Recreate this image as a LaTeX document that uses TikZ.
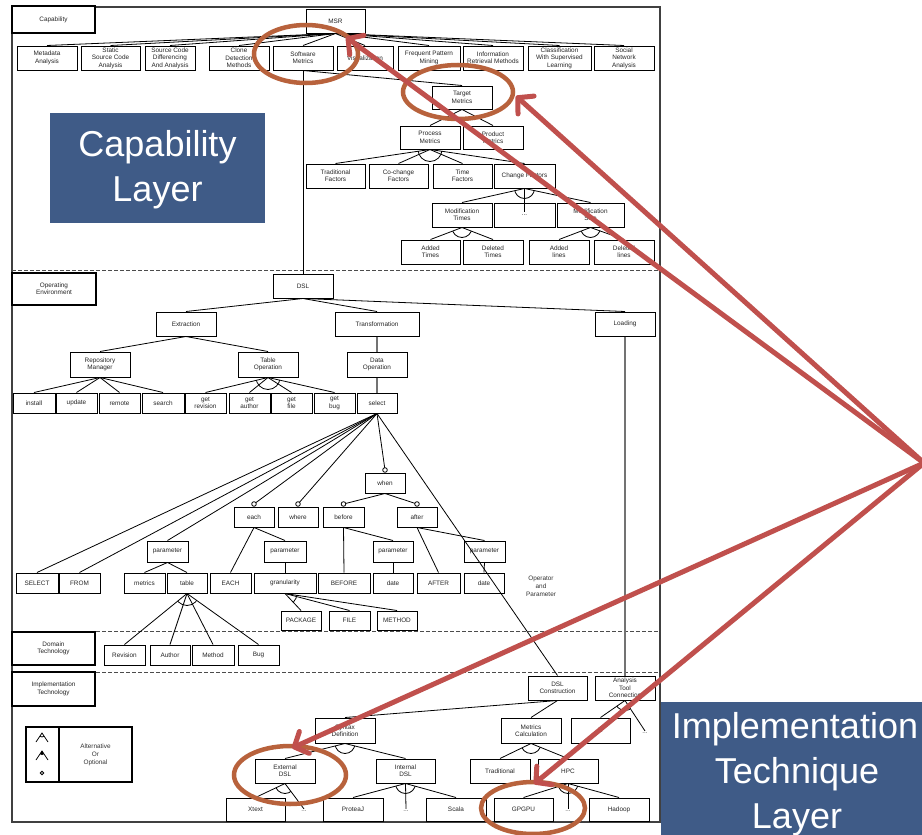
\documentclass[tikz,border=0pt]{standalone}
\usepackage{fontspec}
\setmainfont{Liberation Sans}
\usetikzlibrary{arrows.meta}
\definecolor{layerblue}{RGB}{63,91,135}
\definecolor{arrowred}{RGB}{192,80,77}
\definecolor{ringbrown}{RGB}{184,98,60}
\tikzset{
  fbox/.style={draw=black, line width=1pt, fill=white, inner sep=0pt, align=center,
    font=\fontsize{6.4}{7.4}\selectfont, text=black!85},
  lbox/.style={fbox, line width=1.3pt},
  conn/.style={line width=0.8pt, black},
  gconn/.style={line width=1.1pt, black!55},
  dotsnode/.style={inner sep=1.5pt, font=\fontsize{6.4}{7.4}\selectfont, text=black!70},
  plaintext/.style={inner sep=0pt, align=center, font=\fontsize{6.4}{7.8}\selectfont, text=black!80},
  framestyle/.style={line width=1.3pt, black!75},
  dashline/.style={line width=1pt, black!70, dash pattern=on 4pt off 2pt},
  bigtext/.style={font=\fontsize{36}{45}\selectfont, text=white, align=center, inner sep=0pt},
  redarrow/.style={line width=5pt, draw=arrowred, -{Straight Barb[length=11pt,width=24pt,round]}},
  ring/.style={line width=4.5pt, draw=ringbrown},
}
\newcommand\mkbox[6]{\node[fbox, minimum width=#4-#2, minimum height=#5-#3] (#1) at ({(#2+#4)/2},{(#3+#5)/2}) {#6};}
\newcommand\mklbox[6]{\node[lbox, minimum width=#4-#2, minimum height=#5-#3] (#1) at ({(#2+#4)/2},{(#3+#5)/2}) {#6};}
\newcommand\altarc[4][10]{\begin{scope}\clip (#2.south) -- (#3) -- (#4) -- cycle; \draw[conn] (#2.south) circle[radius=#1pt];\end{scope}}
\newcommand\optc[1]{\draw[conn, fill=white] ([yshift=2.5pt]#1.north) circle[radius=2.3pt];}
\begin{document}
\begin{tikzpicture}[x=1pt,y=-1pt]
\useasboundingbox (0,0) rectangle (922,835);
\fill[white] (0,0) rectangle (922,835);
% frame and layer separators
\draw[framestyle] (12,7) rectangle (660,822);
\draw[dashline] (12,270) -- (660,270);
\draw[dashline] (12,631) -- (660,631);
\draw[dashline] (12,672) -- (660,672);

% ---------------- Capability layer ----------------
\mklbox{cap}{12}{6}{95}{33}{Capability}
\mkbox{msr}{306}{9}{365}{33}{MSR}
\mkbox{md}{17}{46}{77}{70}{Metadata\\Analysis}
\mkbox{ss}{81}{46}{140}{70}{Static\\Source Code\\Analysis}
\mkbox{sdiff}{145}{46}{195}{70}{Source Code\\Differencing\\And Analysis}
\mkbox{cdet}{209}{46}{269}{70}{Clone\\Detection\\Methods}
\mkbox{sm}{273}{46}{333}{70}{Software\\Metrics}
\mkbox{vis}{337}{46}{393}{70}{Visualization}
\mkbox{fpm}{398}{46}{460}{70}{Frequent Pattern\\Mining}
\mkbox{irm}{463}{46}{523}{70}{Information\\Retrieval Methods}
\mkbox{cls}{528}{46}{591}{70}{Classification\\With Supervised\\Learning}
\mkbox{sna}{594}{46}{654}{70}{Social\\Network\\Analysis}
\mkbox{tm}{432}{86}{492}{109}{Target\\Metrics}
\mkbox{pm}{400}{126}{460}{149}{Process\\Metrics}
\mkbox{prm}{463}{126}{523}{149}{Product\\Metrics}
\mkbox{tf}{306}{164}{365}{188}{Traditional\\Factors}
\mkbox{ccf}{369}{164}{428}{188}{Co-change\\Factors}
\mkbox{tif}{433}{164}{492}{188}{Time\\Factors}
\mkbox{chf}{494}{164}{555}{188}{Change Factors}
\mkbox{mt}{432}{203}{492}{227}{Modification\\Times}
\mkbox{cdots}{494}{203}{555}{227}{...}
\mkbox{msz}{557}{203}{624}{227}{Modification\\Size}
\mkbox{addT}{401}{240}{460}{264}{Added\\Times}
\mkbox{delT}{463}{240}{523}{264}{Deleted\\Times}
\mkbox{addL}{529}{240}{589}{264}{Added\\lines}
\mkbox{delL}{594}{240}{654}{264}{Deleted\\lines}

\foreach \n in {md,ss,sdiff,cdet,sm,vis,fpm,irm,cls,sna} \draw[conn] (msr.south) -- (\n.north);
\draw[conn] (sm.south) -- (tm.north);
\draw[conn] (tm.south) -- (pm.north);
\draw[conn] (tm.south) -- (prm.north);
\foreach \n in {tf,ccf,tif,chf} \draw[conn] (pm.south) -- (\n.north);
\draw[conn] (chf.south) -- (mt.north);
\draw[conn] (chf.south) -- ([yshift=3pt]cdots.center);
\draw[conn] (chf.south) -- (msz.north);
\draw[conn] (mt.south) -- (addT.north);
\draw[conn] (mt.south) -- (delT.north);
\draw[conn] (msz.south) -- (addL.north);
\draw[conn] (msz.south) -- (delL.north);
\altarc[12]{pm}{tf.north}{chf.north}
\altarc{chf}{mt.north}{msz.north}
\altarc{mt}{addT.north}{delT.north}
\altarc{msz}{addL.north}{delL.north}

% ---------------- Operating environment ----------------
\mklbox{oe}{12}{273}{96}{305}{Operating\\Environment}
\mkbox{dsl}{273}{274}{333}{298}{DSL}
\draw[conn] (sm.south) -- (dsl.north);
\mkbox{ext}{156}{312}{216}{336}{Extraction}
\mkbox{trans}{335}{312}{419}{336}{Transformation}
\mkbox{load}{595}{312}{655}{336}{Loading}
\mkbox{repo}{70}{352}{130}{377}{Repository\\Manager}
\mkbox{tabop}{238}{352}{298}{377}{Table\\Operation}
\mkbox{dataop}{347}{352}{407}{377}{Data\\Operation}
\mkbox{inst}{13}{393}{55}{413}{install}
\mkbox{upd}{56}{393}{97}{413}{update}
\mkbox{rem}{99}{393}{140}{413}{remote}
\mkbox{srch}{142}{393}{184}{413}{search}
\mkbox{grev}{185}{393}{226}{413}{get\\revision}
\mkbox{gauth}{229}{393}{270}{413}{get\\author}
\mkbox{gfile}{271}{393}{312}{413}{get\\file}
\mkbox{gbug}{314}{393}{355}{413}{get\\bug}
\mkbox{sel}{357}{393}{397}{413}{select}

\foreach \n in {ext,trans,load} \draw[conn] (dsl.south) -- (\n.north);
\draw[conn] (ext.south) -- (repo.north);
\draw[conn] (ext.south) -- (tabop.north);
\draw[gconn] (trans.south) -- (dataop.north);
\draw[gconn] (dataop.south) -- (sel.north);
\foreach \n in {inst,upd,rem,srch} \draw[conn] (repo.south) -- (\n.north);
\foreach \n in {grev,gauth,gfile,gbug} \draw[conn] (tabop.south) -- (\n.north);
\altarc[12]{tabop}{grev.north}{gbug.north}

\mkbox{when}{365}{473}{405}{493}{when}
\mkbox{each}{234}{507}{274}{527}{each}
\mkbox{where}{278}{507}{318}{527}{where}
\mkbox{before}{323}{507}{364}{527}{before}
\mkbox{after}{397}{507}{437}{527}{after}
\mkbox{parA}{147}{541}{188}{562}{parameter}
\mkbox{parB}{264}{541}{306}{562}{parameter}
\mkbox{parC}{373}{541}{413}{562}{parameter}
\mkbox{parD}{464}{541}{505}{562}{parameter}
\mkbox{kSELECT}{16}{573}{58}{593}{SELECT}
\mkbox{kFROM}{59}{573}{100}{593}{FROM}
\mkbox{metr}{124}{573}{165}{593}{metrics}
\mkbox{tabl}{167}{573}{207}{593}{table}
\mkbox{kEACH}{210}{573}{251}{593}{EACH}
\mkbox{gran}{254}{573}{316}{593}{granularity}
\mkbox{kBEFORE}{318}{573}{370}{593}{BEFORE}
\mkbox{dateA}{373}{573}{413}{593}{date}
\mkbox{kAFTER}{417}{573}{460}{593}{AFTER}
\mkbox{dateB}{464}{573}{504}{593}{date}
\mkbox{pkg}{281}{611}{321}{630}{PACKAGE}
\mkbox{file}{329}{611}{370}{630}{FILE}
\mkbox{meth}{377}{611}{417}{630}{METHOD}
\node[plaintext] (oplabel) at (541,586) {Operator\\and\\Parameter};

\draw[conn] (sel.south) -- (kSELECT.north);
\draw[conn] (sel.south) -- (kFROM.north);
\draw[conn] (sel.south) -- (parA.north);
\draw[conn] (sel.south) -- ([yshift=2.5pt]each.north);
\draw[conn] (sel.south) -- ([yshift=2.5pt]where.north);
\draw[conn] (sel.south) -- ([yshift=2.5pt]when.north);
\draw[conn] (when.south) -- ([yshift=2.5pt]before.north);
\draw[conn] (when.south) -- ([yshift=2.5pt]after.north);
\draw[conn] (parA.south) -- (metr.north);
\draw[conn] (parA.south) -- (tabl.north);
\draw[conn] (each.south) -- (kEACH.north);
\draw[conn] (each.south) -- (parB.north);
\draw[conn] (parB.south) -- (gran.north);
\draw[conn] (before.south) -- (kBEFORE.north);
\draw[conn] (before.south) -- (parC.north);
\draw[conn] (parC.south) -- (dateA.north);
\draw[conn] (after.south) -- (kAFTER.north);
\draw[conn] (after.south) -- (parD.north);
\draw[conn] (parD.south) -- (dateB.north);
\foreach \n in {pkg,file,meth} \draw[conn] (gran.south) -- (\n.north);
\altarc[12]{gran}{pkg.north}{meth.north}
\optc{each}
\optc{where}
\optc{when}
\optc{before}
\optc{after}

% ---------------- Domain technology ----------------
\mklbox{dom}{12}{632}{95}{665}{Domain\\Technology}
\mkbox{rev}{104}{645}{145}{665}{Revision}
\mkbox{auth}{150}{645}{190}{665}{Author}
\mkbox{mthd}{192}{645}{234}{665}{Method}
\mkbox{bug}{238}{645}{279}{665}{Bug}
\foreach \n in {rev,auth,mthd,bug} \draw[conn] (tabl.south) -- (\n.north);
\altarc[12]{tabl}{rev.north}{bug.north}

% ---------------- Implementation technology ----------------
\mklbox{impl}{12}{672}{95}{706}{Implementation\\Technology}
\mkbox{dslc}{528}{676}{587}{700}{DSL\\Construction}
\mkbox{atc}{595}{676}{655}{700}{Analysis\\Tool\\Connection}
\mkbox{syn}{315}{718}{375}{743}{Syntax\\Definition}
\mkbox{mcalc}{501}{718}{561}{743}{Metrics\\Calculation}
\mkbox{rbox}{571}{718}{630}{743}{R}
\node[dotsnode] (atcdots) at (645,733) {...};
\mkbox{extd}{255}{759}{315}{783}{External\\DSL}
\mkbox{intd}{376}{759}{435}{783}{Internal\\DSL}
\mkbox{trad}{470}{759}{530}{783}{Traditional}
\mkbox{hpc}{538}{759}{598}{783}{HPC}
\mkbox{xtext}{226}{798}{285}{821}{Xtext}
\node[dotsnode] (dA) at (304,811) {...};
\mkbox{proteaj}{323}{798}{383}{821}{ProteaJ}
\node[dotsnode] (dB) at (406,811) {...};
\mkbox{scala}{426}{798}{486}{821}{Scala}
\mkbox{gpgpu}{494}{798}{553}{821}{GPGPU}
\node[dotsnode] (dC) at (568,811) {...};
\mkbox{hadoop}{589}{798}{649}{821}{Hadoop}

\draw[conn] (sel.south) -- (dslc.north);
\draw[gconn] (load.south) -- (atc.north);
\draw[conn] (dslc.south) -- (syn.north);
\draw[conn] (dslc.south) -- (mcalc.north);
\draw[conn] (atc.south) -- (rbox.north);
\draw[conn] (atc.south) -- (atcdots.north);
\altarc{atc}{rbox.north}{atcdots.north}
\draw[conn] (syn.south) -- (extd.north);
\draw[conn] (syn.south) -- (intd.north);
\altarc{syn}{extd.north}{intd.north}
\draw[conn] (mcalc.south) -- (trad.north);
\draw[conn] (mcalc.south) -- (hpc.north);
\altarc{mcalc}{trad.north}{hpc.north}
\draw[conn] (extd.south) -- (xtext.north);
\draw[conn] (extd.south) -- (dA.north);
\altarc{extd}{xtext.north}{dA.north}
\draw[conn] (intd.south) -- (proteaj.north);
\draw[conn] (intd.south) -- (dB.north);
\draw[conn] (intd.south) -- (scala.north);
\altarc{intd}{proteaj.north}{scala.north}
\draw[conn] (hpc.south) -- (gpgpu.north);
\draw[conn] (hpc.south) -- (dC.north);
\draw[conn] (hpc.south) -- (hadoop.north);
\altarc{hpc}{gpgpu.north}{hadoop.north}

% legend
\mklbox{legend}{26}{727}{132}{782}{}
\draw[line width=1.3pt, black] (59,727) -- (59,782);
\node[plaintext] (legtext) at (95.5,755) {Alternative\\Or\\Optional};
\draw[conn] (36,742) -- (42,733) -- (48,742);
\begin{scope}\clip (42,733) -- (36,742) -- (48,742) -- cycle; \draw[conn] (42,733) circle[radius=4pt];\end{scope}
\draw[conn] (36,760) -- (42,751) -- (48,760);
\begin{scope}\clip (42,751) -- (36,760) -- (48,760) -- cycle; \fill (42,751) circle[radius=4pt];\end{scope}
\draw[conn, fill=white] (42,773) circle[radius=1.8pt];

% ---------------- layer labels ----------------
\node[fill=layerblue, minimum width=215pt, minimum height=110pt, inner sep=0pt] (caplayer) at (157.5,168) {};
\node[bigtext] (captext) at (157.5,170) {Capability\\Layer};
\fill[layerblue] (661,702) rectangle (930,840);
\node[bigtext, anchor=base] (imptext1) at (795,738) {Implementation};
\node[bigtext, anchor=base] (imptext2) at (797,783) {Technique};
\node[bigtext, anchor=base] (imptext3) at (797,828) {Layer};

% ---------------- highlight rings and arrows ----------------
\draw[ring] (306,54) ellipse[x radius=52pt, y radius=29pt];
\draw[ring] (458,92) ellipse[x radius=55pt, y radius=27pt];
\draw[ring] (290,775) ellipse[x radius=56pt, y radius=29pt];
\draw[ring] (533,808) ellipse[x radius=52pt, y radius=26pt];

\coordinate (src) at (924,463);
\coordinate (tipA) at (346,37);
\coordinate (tipB) at (516,96);
\coordinate (tipC) at (292,748);
\coordinate (tipD) at (534,784);
\draw[redarrow] (src) -- (tipA);
\draw[redarrow] (src) -- (tipB);
\draw[redarrow] (src) -- (tipC);
\draw[redarrow] (src) -- (tipD);
\end{tikzpicture}
\end{document}
